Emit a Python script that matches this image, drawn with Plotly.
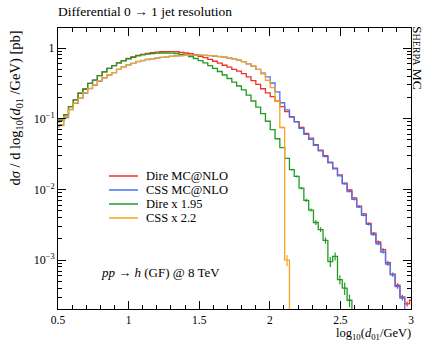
import numpy as np
import plotly.graph_objects as go

# ---------------- data ----------------
# histogram binning: 100 bins from 0.2 to log10(0.5*sqrt(s)/GeV); bins 8..82 are visible
n_bins_total = 100
bin_lo, bin_hi = 0.2, np.log10(4000.0)
first_bin, last_bin = 8, 82

dire_mcnlo = [0.090, 0.094, 0.113, 0.148, 0.184, 0.229, 0.263, 0.316, 0.352, 0.406,
              0.460, 0.515, 0.565, 0.615, 0.665, 0.710, 0.750, 0.785, 0.815, 0.840,
              0.860, 0.875, 0.885, 0.890, 0.890, 0.885, 0.870, 0.850, 0.830, 0.800,
              0.765, 0.730, 0.690, 0.650, 0.610, 0.570, 0.535, 0.500, 0.470, 0.435,
              0.390, 0.345, 0.305, 0.265, 0.232, 0.205, 0.178, 0.148, 0.126, 0.105,
              0.091, 0.075, 0.062, 0.053, 0.043, 0.036, 0.030, 0.024, 0.020, 0.016,
              0.0122, 0.0098, 0.0076, 0.0058, 0.0045, 0.0033, 0.0024, 0.0018, 0.0014, 0.00092,
              0.00063, 0.00044, 0.00030, 0.00024, 0.00027]

css_mcnlo = [0.078, 0.082, 0.104, 0.134, 0.165, 0.195, 0.230, 0.267, 0.298, 0.340,
             0.378, 0.413, 0.447, 0.497, 0.540, 0.578, 0.605, 0.640, 0.665, 0.688,
             0.705, 0.720, 0.735, 0.750, 0.762, 0.772, 0.780, 0.785, 0.790, 0.790,
             0.790, 0.785, 0.780, 0.770, 0.755, 0.740, 0.720, 0.700, 0.675, 0.640,
             0.595, 0.555, 0.500, 0.440, 0.390, 0.320, 0.240, 0.168, 0.133, 0.107,
             0.090, 0.073, 0.060, 0.051, 0.042, 0.035, 0.029, 0.024, 0.0195, 0.0155,
             0.0120, 0.0093, 0.0072, 0.0056, 0.0043, 0.0032, 0.0023, 0.0017, 0.0013, 0.00088,
             0.00062, 0.00042, 0.00029, 0.00019, 0.00015]

dire_x195 = [0.090, 0.096, 0.113, 0.148, 0.184, 0.229, 0.263, 0.316, 0.352, 0.406,
             0.460, 0.515, 0.565, 0.615, 0.660, 0.700, 0.740, 0.775, 0.800, 0.820,
             0.835, 0.845, 0.850, 0.850, 0.845, 0.835, 0.815, 0.790, 0.755, 0.710,
             0.665, 0.615, 0.565, 0.515, 0.465, 0.415, 0.370, 0.330, 0.290, 0.255,
             0.215, 0.178, 0.146, 0.118, 0.092, 0.070, 0.052, 0.039, 0.0275, 0.0190,
             0.0153, 0.0104, 0.0070, 0.0051, 0.0034, 0.0027, 0.0019, 0.00095, 0.00113, 0.00053,
             0.00040, 0.00027, 0.00012, 0, 0, 0, 0, 0, 0, 0,
             0, 0, 0, 0, 0]

css_x22 = [0.076, 0.080, 0.106, 0.136, 0.166, 0.194, 0.233, 0.269, 0.300, 0.345,
           0.380, 0.415, 0.447, 0.500, 0.544, 0.580, 0.607, 0.645, 0.668, 0.690,
           0.708, 0.722, 0.738, 0.752, 0.765, 0.775, 0.782, 0.788, 0.792, 0.793,
           0.792, 0.788, 0.782, 0.772, 0.758, 0.742, 0.722, 0.700, 0.675, 0.640,
           0.595, 0.555, 0.500, 0.430, 0.350, 0.275, 0.178, 0.075, 0.0010, 0,
           0, 0, 0, 0, 0, 0, 0, 0, 0, 0,
           0, 0, 0, 0, 0, 0, 0, 0, 0, 0,
           0, 0, 0, 0, 0]

# relative statistical errors (only the visibly large ones)
dire_x195_relerr = [0.0] * 49 + [0.03, 0.03, 0.04, 0.05, 0.05, 0.08, 0.08, 0.10, 0.16, 0.13,
                                 0.15, 0.20, 0.20, 0.30] + [0.0] * 12
css_x22_relerr = [0.0] * 47 + [0.03, 0.18] + [0.0] * 26
mcnlo_relerr = [0.0] * 60 + [0.02, 0.02, 0.03, 0.03, 0.03, 0.04, 0.04, 0.05, 0.05, 0.06,
                             0.06, 0.07, 0.08, 0.08, 0.09]

series_names = ["Dire MC@NLO", "CSS MC@NLO", "Dire x 1.95", "CSS x 2.2"]
series_colors = ["#ee3322", "#4a72f0", "#229a22", "#f7a51e"]

# ---------------- figure ----------------
width_bin = (bin_hi - bin_lo) / n_bins_total
edges = bin_lo + width_bin * np.arange(first_bin, last_bin + 2)
centers = 0.5 * (edges[:-1] + edges[1:])

fig = go.Figure()
FONT = "Liberation Serif"

all_series = [dire_mcnlo, css_mcnlo, dire_x195, css_x22]
all_err = [mcnlo_relerr, mcnlo_relerr, dire_x195_relerr, css_x22_relerr]
for name, vals, rel, col in zip(series_names, all_series, all_err, series_colors):
    v = np.array(vals, dtype=float)
    vplot = np.where(v > 0, v, 1e-12)
    fig.add_trace(go.Scatter(
        x=edges, y=np.append(vplot, vplot[-1]), mode="lines",
        line=dict(color=col, width=1.3, shape="hv"), name=name, showlegend=False,
        hoverinfo="skip"))
    r = np.array(rel, dtype=float)
    mask = (r > 0) & (v > 0)
    if mask.any():
        fig.add_trace(go.Scatter(
            x=centers[mask], y=v[mask], mode="markers",
            marker=dict(size=0.1, color=col),
            error_y=dict(type="data", symmetric=False, array=(v * r)[mask],
                         arrayminus=(v * r)[mask], width=0, thickness=1.2, color=col),
            showlegend=False, hoverinfo="skip"))

# plot area in pixels: x 58..411, y 28..309
L, R, T, B = 58, 411, 28, 309
W, H = 425, 341
def px(xp):
    return (xp - L) / (R - L)
def py(yp):
    return (B - yp) / (B - T)

# manual legend
leg_y = [176, 190, 204, 218]
for name, col, yy in zip(series_names, series_colors, leg_y):
    fig.add_shape(type="line", xref="paper", yref="paper",
                  x0=px(109), x1=px(138), y0=py(yy), y1=py(yy),
                  line=dict(color=col, width=1.5))
    fig.add_annotation(xref="paper", yref="paper", x=px(144), y=py(yy),
                       xanchor="left", yanchor="middle", showarrow=False,
                       text=name, font=dict(family=FONT, size=12.5, color="black"))

fig.add_annotation(xref="paper", yref="paper", x=px(99), y=py(272),
                   xanchor="left", yanchor="middle", showarrow=False,
                   text="<i>pp</i> → <i>h</i> (GF) @ 8 TeV",
                   font=dict(family=FONT, size=13, color="black"))

# title
fig.add_annotation(xref="paper", yref="paper", x=px(56), y=py(12),
                   xanchor="left", yanchor="middle", showarrow=False,
                   text="Differential 0 → 1 jet resolution",
                   font=dict(family=FONT, size=13.5, color="black"))

# x-axis title
fig.add_annotation(xref="paper", yref="paper", x=px(413), y=py(334),
                   xanchor="right", yanchor="middle", showarrow=False,
                   text="log<sub>10</sub>(<i>d</i><sub>01</sub>/GeV)",
                   font=dict(family=FONT, size=12.5, color="black"))

# y-axis title
fig.add_annotation(xref="paper", yref="paper", x=px(15), y=py(29),
                   xanchor="center", yanchor="top", showarrow=False, textangle=-90,
                   text="d<i>σ</i> / d log<sub>10</sub>(<i>d</i><sub>01</sub> /GeV) [pb]",
                   font=dict(family=FONT, size=14.5, color="black"))

# generator label
fig.add_annotation(xref="paper", yref="paper", x=px(418), y=py(24),
                   xanchor="center", yanchor="top", showarrow=False, textangle=90,
                   text="S<span style='font-size:10px'>HERPA</span> MC",
                   font=dict(family=FONT, size=13.5, color="black"))

x_major = [0.5, 1, 1.5, 2, 2.5, 3]
x_labels = ["0.5", "1", "1.5", "2", "2.5", "3"]
x_minor = [round(0.5 + 0.1 * i, 2) for i in range(26) if i % 5 != 0]

y_major = [1e-3, 1e-2, 1e-1, 1]
y_labels = ["10<sup>−3</sup>", "10<sup>−2</sup>", "10<sup>−1</sup>", "1"]
y_minor = [m * 10.0 ** e for e in range(-4, 1) for m in range(2, 10)]

fig.update_layout(
    width=W, height=H, margin=dict(l=L, r=W - R, t=T, b=H - B),
    paper_bgcolor="white", plot_bgcolor="white", showlegend=False,
    font=dict(family=FONT, size=12, color="black"),
    xaxis=dict(range=[0.5, 3], tickmode="array", tickvals=x_major, ticktext=x_labels,
               ticks="inside", ticklen=8, tickwidth=1, tickcolor="black",
               showline=True, linecolor="black", linewidth=1, mirror="ticks",
               showgrid=False, zeroline=False,
               tickfont=dict(family=FONT, size=11.5),
               minor=dict(tickvals=x_minor, ticks="inside", ticklen=4, tickcolor="black",
                          showgrid=False)),
    yaxis=dict(type="log", range=[np.log10(2.03e-4), 0.283], tickmode="array",
               tickvals=y_major, ticktext=y_labels,
               ticks="inside", ticklen=8, tickwidth=1, tickcolor="black",
               showline=True, linecolor="black", linewidth=1, mirror="ticks",
               showgrid=False, zeroline=False,
               tickfont=dict(family=FONT, size=12),
               minor=dict(tickvals=y_minor, ticks="inside", ticklen=4, tickcolor="black",
                          showgrid=False)),
)

fig.write_html("out.html", config={"displayModeBar": False},
               post_script="document.body.style.margin='0px';document.body.style.overflow='hidden';")
